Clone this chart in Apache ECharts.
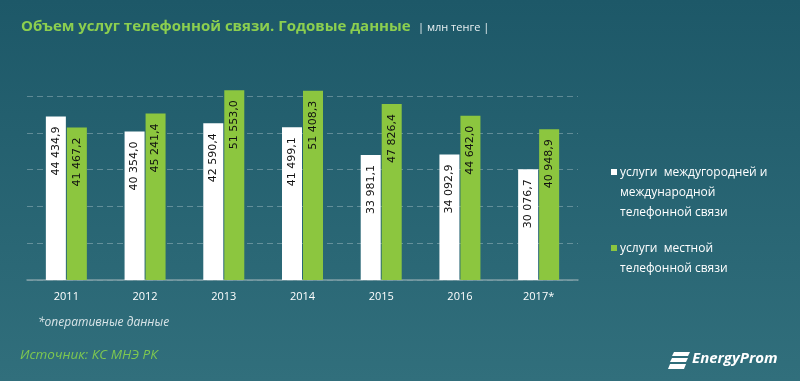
<!DOCTYPE html>
<html><head><meta charset="utf-8">
<script src="https://cdn.jsdelivr.net/npm/echarts@6/dist/echarts.min.js"></script>
<style>html,body{margin:0;padding:0;background:#25606f}#c{width:800px;height:381px}</style>
</head><body><div id="c"></div>
<script>
const categories = ['2011','2012','2013','2014','2015','2016','2017*'];
const intlValues = [44434.9, 40354.0, 42590.4, 41499.1, 33981.1, 34092.9, 30076.7];
const localValues = [41467.2, 45241.4, 51553.0, 51408.3, 47826.4, 44642.0, 40948.9];
const seriesNames = ['услуги междугородней и международной телефонной связи', 'услуги местной телефонной связи'];
const yTicks = [0, 10000, 20000, 30000, 40000, 50000];

function fmt(v){
  const s = v.toFixed(1).split('.');
  return s[0].replace(/\B(?=(\d{3})+(?!\d))/g, ' ') + ',' + s[1];
}
const GREEN = '#8cc63f';
const chart = echarts.init(document.getElementById('c'));
const labelCfg = {
  show: true, position: 'insideTop', rotate: 90, align: 'right', verticalAlign: 'middle',
  distance: 10, color: '#111', fontFamily: 'DejaVu Sans', fontSize: 11,
  formatter: p => fmt(p.value)
};
chart.setOption({
  backgroundColor: {type:'linear', x:0, y:0, x2:0, y2:1, colorStops:[{offset:0,color:'#1d5868'},{offset:1,color:'#316f7c'}]},
  animation: false,
  grid: {left: 27, right: 222, top: 96, bottom: 101},
  xAxis: {
    type: 'category', data: categories,
    axisLine: {lineStyle: {color: '#7f9ea6', width: 1.5}},
    axisTick: {show: false},
    axisLabel: {color: '#ffffff', fontFamily: 'Open Sans', fontSize: 11, margin: 11}
  },
  yAxis: {
    type: 'value', min: yTicks[0], max: yTicks[yTicks.length-1], interval: yTicks[1]-yTicks[0],
    axisLabel: {show: false}, axisLine: {show: false}, axisTick: {show: false},
    splitLine: {lineStyle: {color: 'rgba(255,255,255,0.28)', type: [6,4], width: 1}}
  },
  series: [
    {name: seriesNames[0], type: 'bar', data: intlValues, barWidth: 20, barGap: '5%', clip: false,
     itemStyle: {color: '#ffffff'}, label: labelCfg},
    {name: seriesNames[1], type: 'bar', data: localValues, barWidth: 20, barGap: '5%', clip: false,
     itemStyle: {color: GREEN}, label: labelCfg}
  ],
  graphic: [
    {type:'text', left: 21, top: 19, style:{text:'Объем услуг телефонной связи. Годовые данные', fill:'#8ccf4f', font:'bold 15px "Open Sans"'}},
    {type:'text', left: 418, top: 22, style:{text:'| млн тенге |', fill:'#e8f0f2', font:'11px "Open Sans"'}},
    {type:'rect', shape:{x:611, y:169, width:6, height:6}, style:{fill:'#ffffff'}},
    {type:'text', left: 620, top: 163, style:{text:'услуги  междугородней и\nмеждународной\nтелефонной связи', fill:'#ffffff', font:'12px "Open Sans"', lineHeight: 20}},
    {type:'rect', shape:{x:611, y:245, width:6, height:6}, style:{fill:GREEN}},
    {type:'text', left: 620, top: 239, style:{text:'услуги  местной\nтелефонной связи', fill:'#ffffff', font:'12px "Open Sans"', lineHeight: 20}},
    {type:'text', left: 38, top: 317, style:{text:'*оперативные данные', fill:'#d8e4e7', font:'italic 12px "Open Sans"'}},
    {type:'text', left: 20, top: 348, style:{text:'Источник: КС МНЭ РК', fill:'#7ec850', font:'italic 13.5px "Open Sans"'}},
    {type:'polygon', shape:{points:[[674,352],[690,352],[688,356],[672,356]]}, style:{fill:'#ffffff'}},
    {type:'polygon', shape:{points:[[672,358],[688,358],[686,362],[670,362]]}, style:{fill:'#ffffff'}},
    {type:'polygon', shape:{points:[[670,364],[686,364],[684,369],[668,369]]}, style:{fill:'#ffffff'}},
    {type:'text', left: 692, top: 351, style:{text:'EnergyProm', fill:'#ffffff', font:'italic bold 15px "Open Sans"'}}
  ]
});
</script></body></html>
